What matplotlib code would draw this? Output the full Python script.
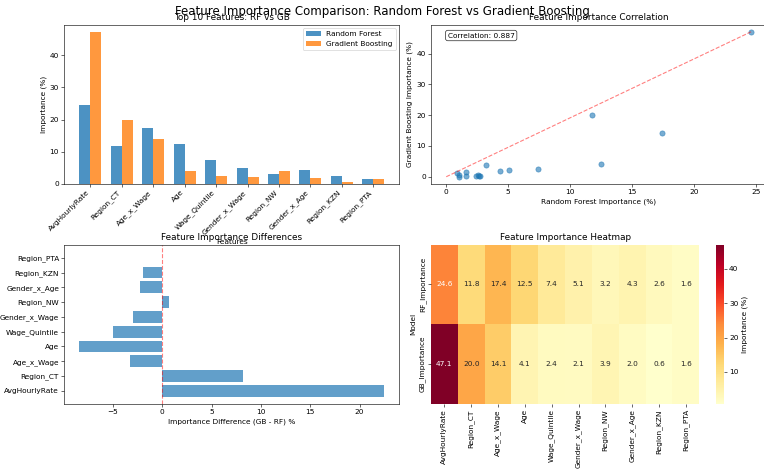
import numpy as np
import pandas as pd
import matplotlib
matplotlib.use('Agg')
import matplotlib.pyplot as plt
import seaborn as sns

features = ['AvgHourlyRate', 'Region_CT', 'Age_x_Wage', 'Age', 'Wage_Quintile',
            'Gender_x_Wage', 'Region_NW', 'Gender_x_Age', 'Region_KZN', 'Region_PTA']
rf_top = [24.6, 11.8, 17.4, 12.5, 7.4, 5.1, 3.2, 4.3, 2.6, 1.6]
gb_top = [47.1, 20.0, 14.1, 4.1, 2.4, 2.1, 3.9, 2.0, 0.6, 1.6]

# remaining (non top-10) features, only shown in the scatter
rf_other = [0.85, 1.05, 1.05, 1.6, 2.4, 2.65, 2.7]
gb_other = [1.1, 0.7, 0.0, 0.2, 0.2, 0.4, 0.1]


def main():
    rf_all = np.array(rf_top + rf_other)
    gb_all = np.array(gb_top + gb_other)
    corr = 0.887

    fig, axes = plt.subplots(2, 2, figsize=(764 / 53, 472 / 53), dpi=53)
    fig.subplots_adjust(left=0.084, right=1.003, top=0.948, bottom=0.144,
                        wspace=0.094, hspace=0.38)
    fig.suptitle('Feature Importance Comparison: Random Forest vs Gradient Boosting',
                 fontsize=16, y=0.99)

    # top-left: grouped bars
    ax = axes[0, 0]
    x = np.arange(len(features))
    w = 0.35
    ax.bar(x - w / 2, rf_top, w, label='Random Forest', alpha=0.8)
    ax.bar(x + w / 2, gb_top, w, label='Gradient Boosting', alpha=0.8)
    ax.set_xticks(x)
    ax.set_xticklabels(features, rotation=45, ha='right')
    ax.set_xlabel('Features')
    ax.set_ylabel('Importance (%)')
    ax.set_title('Top 10 Features: RF vs GB')
    ax.legend(loc='upper right')

    # top-right: scatter
    ax = axes[0, 1]
    ax.scatter(rf_all, gb_all, alpha=0.6, s=50)
    ax.plot([0, rf_all.max()], [0, gb_all.max()], 'r--', alpha=0.5)
    ax.set_xlabel('Random Forest Importance (%)')
    ax.set_ylabel('Gradient Boosting Importance (%)')
    ax.set_title('Feature Importance Correlation')
    ax.text(0.05, 0.95, f'Correlation: {corr:.3f}', transform=ax.transAxes,
            va='top', bbox=dict(boxstyle='round', facecolor='white', alpha=0.8))

    # bottom-left: differences
    ax = axes[1, 0]
    diff = np.array(gb_top) - np.array(rf_top)
    y = np.arange(len(features))
    ax.barh(y, diff, alpha=0.7)
    ax.set_yticks(y)
    ax.set_yticklabels(features)
    ax.axvline(0, color='red', linestyle='--', alpha=0.5)
    ax.set_xlabel('Importance Difference (GB - RF) %')
    ax.set_title('Feature Importance Differences')

    # bottom-right: heatmap
    ax = axes[1, 1]
    heat = pd.DataFrame({'RF_Importance': rf_top, 'GB_Importance': gb_top},
                        index=features).T
    sns.heatmap(heat, annot=True, fmt='.1f', cmap='YlOrRd', ax=ax,
                cbar_kws={'label': 'Importance (%)'})
    ax.set_title('Feature Importance Heatmap')
    ax.set_ylabel('Model')
    plt.setp(ax.get_xticklabels(), rotation=90)
    plt.setp(ax.get_yticklabels(), rotation=90, va='center')

    fig.savefig('out.png', dpi=53)


if __name__ == "__main__":
    main()
